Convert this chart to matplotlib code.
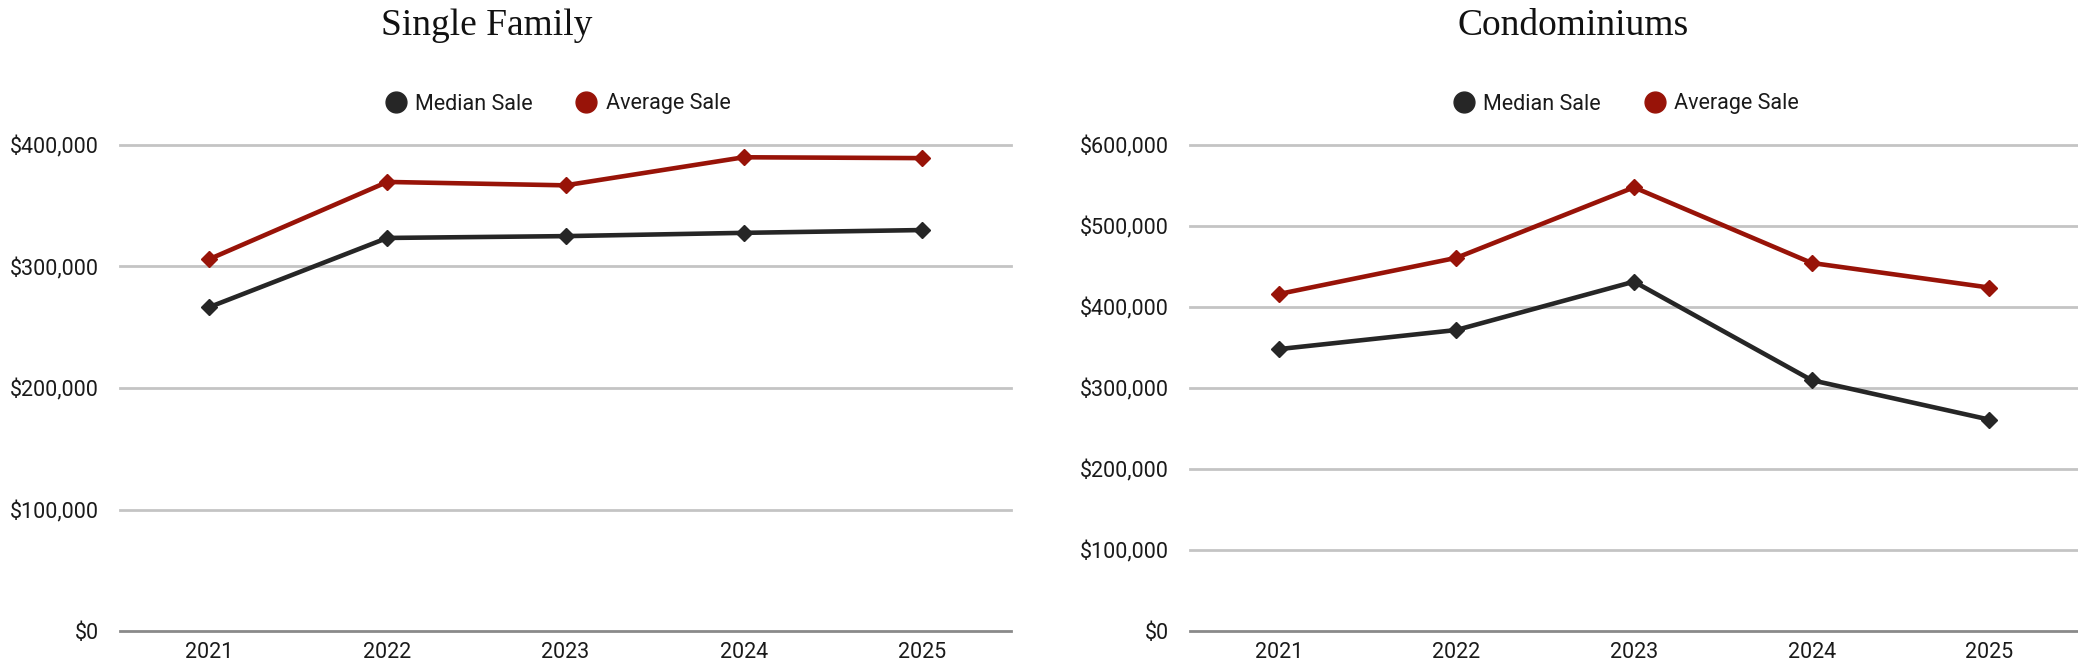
import matplotlib
matplotlib.use("Agg")
import matplotlib.pyplot as plt
from matplotlib.ticker import FuncFormatter
from matplotlib.lines import Line2D

years = ["2021", "2022", "2023", "2024", "2025"]

sf_median = [266500, 323500, 325000, 327700, 330000]
sf_average = [306000, 369600, 366800, 389900, 389200]

condo_median = [348000, 371600, 431300, 309700, 261000]
condo_average = [416000, 460700, 547700, 454400, 424000]

sf_ticks = [0, 100000, 200000, 300000, 400000]
condo_ticks = [0, 100000, 200000, 300000, 400000, 500000, 600000]

DARK = "#262626"
RED = "#981308"
GRID = "#c4c4c4"
BASE = "#8a8a8a"

sans = ["Roboto", "DejaVu Sans"]
serif = ["Liberation Serif", "DejaVu Serif"]

fig = plt.figure(figsize=(20.78, 6.65), dpi=100)
fig.patch.set_facecolor("white")

axes_specs = [
    ("Single Family", sf_median, sf_average, sf_ticks, [120 / 2078, 891 / 2078], 487 / 2078),
    ("Condominiums", condo_median, condo_average, condo_ticks, [1190 / 2078, 888 / 2078], 1573 / 2078),
]

bottom = (665 - 631) / 665
height = (631 - 145) / 665

for title, med, avg, ticks, (left, width), tx in axes_specs:
    ax = fig.add_axes([left, bottom, width, height])
    x = list(range(len(years)))
    ax.plot(x, med, color=DARK, lw=3.3, marker="D", ms=8.5, zorder=3, clip_on=False)
    ax.plot(x, avg, color=RED, lw=3.3, marker="D", ms=8.5, zorder=3, clip_on=False)
    ax.set_xlim(-0.5, len(years) - 0.5)
    ax.set_ylim(ticks[0], ticks[-1])
    ax.set_yticks(ticks)
    ax.yaxis.set_major_formatter(FuncFormatter(lambda v, p: f"${v:,.0f}"))
    ax.set_xticks(x)
    ax.set_xticklabels(years)
    for t in ticks[1:]:
        ax.axhline(t, color=GRID, lw=2, zorder=1, clip_on=False)
    ax.axhline(0, color=BASE, lw=2, zorder=2, clip_on=False)
    for s in ax.spines.values():
        s.set_visible(False)
    ax.tick_params(axis="both", length=0, labelsize=15.5, colors="#1a1a1a")
    ax.tick_params(axis="y", pad=15)
    ax.tick_params(axis="x", pad=8)
    for lab in ax.get_xticklabels() + ax.get_yticklabels():
        lab.set_fontfamily(sans)
    fig.text(tx, 1 - 26 / 665, title, ha="center", va="center",
             fontsize=27, family=serif, color="#111111")
    handles = [
        Line2D([], [], color=DARK, marker="o", ls="none", ms=15),
        Line2D([], [], color=RED, marker="o", ls="none", ms=15),
    ]
    leg = ax.legend(handles, ["Median Sale", "Average Sale"], loc="center",
                    bbox_to_anchor=(0.49, 1 + (145 - 104) / 486), ncol=2,
                    frameon=False, prop={"family": sans, "size": 15.5},
                    handletextpad=0.3, columnspacing=1.9, handlelength=1.2)
    for t in leg.get_texts():
        t.set_color("#1a1a1a")

fig.savefig("out.png", dpi=100, facecolor="white")
